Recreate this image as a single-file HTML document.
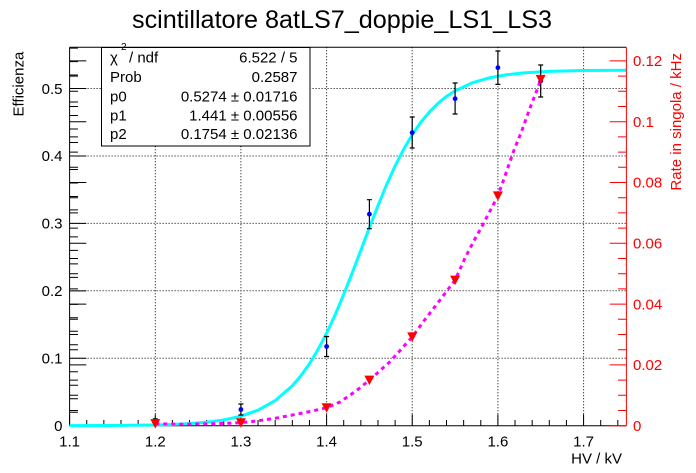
<!DOCTYPE html>
<html>
<head>
<meta charset="utf-8">
<style>
  html,body{margin:0;padding:0;background:#fff;}
  svg{display:block;}
  text{font-family:"Liberation Sans",Arial,sans-serif;}
</style>
</head>
<body>
<svg width="696" height="473" viewBox="0 0 696 473" xmlns="http://www.w3.org/2000/svg">
  <rect x="0" y="0" width="696" height="473" fill="#fff"/>

  <!-- Title -->
  <text x="132" y="28" font-size="25" textLength="420" lengthAdjust="spacingAndGlyphs" fill="#000">scintillatore 8atLS7_doppie_LS1_LS3</text>

  <!-- Grid (dotted) -->
  <g stroke="#000" stroke-width="1" stroke-dasharray="1 2" fill="none">
    <path d="M155.3 47.3V425.7 M240.9 47.3V425.7 M326.6 47.3V425.7 M412.2 47.3V425.7 M497.9 47.3V425.7 M583.6 47.3V425.7"/>
    <path d="M69.6 358.3H626.4 M69.6 290.8H626.4 M69.6 223.4H626.4 M69.6 156H626.4 M69.6 88.5H626.4"/>
  </g>

  <!-- Frame -->
  <g stroke="#000" stroke-width="1" fill="none">
    <path d="M69.6 47.3H626.4 M69.6 47.3V425.7 M69.6 425.7H626.4"/>
  </g>

  <!-- Left axis ticks (own) -->
  <g stroke="#000" stroke-width="1" fill="none">
    <path d="M69.6 425.7h16.7 M69.6 358.27h16.7 M69.6 290.84h16.7 M69.6 223.41h16.7 M69.6 155.98h16.7 M69.6 88.55h16.7"/>
    <path d="M69.6 412.21h8.35 M69.6 398.73h8.35 M69.6 385.24h8.35 M69.6 371.76h8.35 M69.6 344.78h8.35 M69.6 331.3h8.35 M69.6 317.81h8.35 M69.6 304.33h8.35 M69.6 277.35h8.35 M69.6 263.87h8.35 M69.6 250.38h8.35 M69.6 236.9h8.35 M69.6 209.92h8.35 M69.6 196.44h8.35 M69.6 182.95h8.35 M69.6 169.47h8.35 M69.6 142.49h8.35 M69.6 129.01h8.35 M69.6 115.52h8.35 M69.6 102.04h8.35 M69.6 75.06h8.35 M69.6 61.58h8.35 M69.6 48.09h8.35"/>
    <!-- mirrored right-axis ticks on left -->
    <path d="M69.6 364.9h16.7 M69.6 304.1h16.7 M69.6 243.3h16.7 M69.6 182.5h16.7 M69.6 121.7h16.7 M69.6 60.9h16.7"/>
    <path d="M69.6 410.5h8.35 M69.6 395.3h8.35 M69.6 380.1h8.35 M69.6 349.7h8.35 M69.6 334.5h8.35 M69.6 319.3h8.35 M69.6 288.9h8.35 M69.6 273.7h8.35 M69.6 258.5h8.35 M69.6 228.1h8.35 M69.6 212.9h8.35 M69.6 197.7h8.35 M69.6 167.3h8.35 M69.6 152.1h8.35 M69.6 136.9h8.35 M69.6 106.5h8.35 M69.6 91.3h8.35 M69.6 76.1h8.35"/>
  </g>

  <!-- X axis ticks -->
  <g stroke="#000" stroke-width="1" fill="none">
    <path d="M69.6 425.7v-11.35 M155.26 425.7v-11.35 M240.92 425.7v-11.35 M326.58 425.7v-11.35 M412.24 425.7v-11.35 M497.9 425.7v-11.35 M583.56 425.7v-11.35"/>
    <path d="M86.73 425.7v-5.7 M103.86 425.7v-5.7 M121 425.7v-5.7 M138.13 425.7v-5.7 M172.39 425.7v-5.7 M189.52 425.7v-5.7 M206.66 425.7v-5.7 M223.79 425.7v-5.7 M258.05 425.7v-5.7 M275.18 425.7v-5.7 M292.32 425.7v-5.7 M309.45 425.7v-5.7 M343.71 425.7v-5.7 M360.84 425.7v-5.7 M377.98 425.7v-5.7 M395.11 425.7v-5.7 M429.37 425.7v-5.7 M446.5 425.7v-5.7 M463.64 425.7v-5.7 M480.77 425.7v-5.7 M515.03 425.7v-5.7 M532.16 425.7v-5.7 M549.3 425.7v-5.7 M566.43 425.7v-5.7 M600.69 425.7v-5.7 M617.82 425.7v-5.7"/>
  </g>

  <!-- Cyan fit curve -->
  <polyline fill="none" stroke="#00ffff" stroke-width="3" stroke-linejoin="round"
    points="69.6,425.64 112.4,425.49 155.3,424.94 172.4,424.44 189.5,423.6 206.7,422.22 223.8,419.94 240.9,416.22 258.1,410.18 275.2,400.58 292.3,385.71 300.9,375.73 309.5,363.75 318,349.6 326.6,333.23 335.2,314.74 343.7,294.41 352.3,272.68 360.9,250.16 369.4,227.58 378,205.66 386.5,184.95 395.1,166.03 403.7,149.23 412.2,134.68 420.8,122.28 429.4,111.9 437.9,103.38 446.5,96.42 455.1,90.84 472.2,82.84 489.3,77.85 506.5,74.78 523.6,72.92 549.3,71.4 583.6,70.55 626.4,70.21"/>

  <!-- Magenta dotted rate curve -->
  <polyline fill="none" stroke="#ff00ff" stroke-width="3" stroke-dasharray="4 4"
    points="155.3,423.8 180,424.2 200,424 220,423.5 240.9,422.7 256.7,421 275,418.3 290,415.5 310,411.5 326.6,407.8 340,402 356.7,390.5 369.4,380.1 390,361.7 412.2,336.9 425,319.5 440,300 455.1,280.1 465,258 473.3,242 482.7,225 497.9,195.9 505,176 513.3,152 521.7,131 530,108 537,90 540.7,79.4"/>

  <!-- Error bars -->
  <g stroke="#000" stroke-width="1.2" fill="none">
    <path d="M155.3 418.9V424.9 M152.8 418.9h5"/>
    <path d="M240.9 404V415 M238.4 404h5 M238.4 415h5"/>
    <path d="M326.6 336.5V356.5 M324.1 336.5h5 M324.1 356.5h5"/>
    <path d="M369.4 199.7V228.7 M366.9 199.7h5 M366.9 228.7h5"/>
    <path d="M412.2 117V148 M409.7 117h5 M409.7 148h5"/>
    <path d="M455.1 83V114 M452.6 83h5 M452.6 114h5"/>
    <path d="M497.9 51V84.4 M495.4 51h5 M495.4 84.4h5"/>
    <path d="M540.7 65V97 M538.2 65h5 M538.2 97h5"/>
  </g>

  <!-- Blue points -->
  <g fill="#0000ff">
    <circle cx="155.3" cy="421.9" r="2.4"/>
    <circle cx="240.9" cy="409.5" r="2.4"/>
    <circle cx="326.6" cy="346.5" r="2.4"/>
    <circle cx="369.4" cy="214.2" r="2.4"/>
    <circle cx="412.2" cy="132.6" r="2.4"/>
    <circle cx="455.1" cy="98.7" r="2.4"/>
    <circle cx="497.9" cy="67.7" r="2.4"/>
    <circle cx="540.7" cy="81.1" r="2.4"/>
  </g>

  <!-- Red triangles (down) -->
  <g fill="#ff0000">
    <polygon points="150.3,419.1 160.3,419.1 155.3,428.6"/>
    <polygon points="235.9,418.2 245.9,418.2 240.9,427.7"/>
    <polygon points="321.6,403.3 331.6,403.3 326.6,412.8"/>
    <polygon points="364.4,375.6 374.4,375.6 369.4,385.1"/>
    <polygon points="407.2,332.4 417.2,332.4 412.2,341.9"/>
    <polygon points="450.1,275.6 460.1,275.6 455.1,285.1"/>
    <polygon points="492.9,191.4 502.9,191.4 497.9,200.9"/>
    <polygon points="535.7,74.9 545.7,74.9 540.7,84.4"/>
  </g>

  <!-- Right red axis -->
  <g stroke="#ff0000" stroke-width="1" fill="none">
    <path d="M626.4 47.3V425.7"/>
    <path d="M626.4 425.7h-16.7 M626.4 364.9h-16.7 M626.4 304.1h-16.7 M626.4 243.3h-16.7 M626.4 182.5h-16.7 M626.4 121.7h-16.7 M626.4 60.9h-16.7"/>
    <path d="M626.4 410.5h-8.35 M626.4 395.3h-8.35 M626.4 380.1h-8.35 M626.4 349.7h-8.35 M626.4 334.5h-8.35 M626.4 319.3h-8.35 M626.4 288.9h-8.35 M626.4 273.7h-8.35 M626.4 258.5h-8.35 M626.4 228.1h-8.35 M626.4 212.9h-8.35 M626.4 197.7h-8.35 M626.4 167.3h-8.35 M626.4 152.1h-8.35 M626.4 136.9h-8.35 M626.4 106.5h-8.35 M626.4 91.3h-8.35 M626.4 76.1h-8.35"/>
  </g>

  <!-- Left axis labels -->
  <g font-size="15" fill="#000" text-anchor="end">
    <text x="62.5" y="431">0</text>
    <text x="62.5" y="363.5">0.1</text>
    <text x="62.5" y="296">0.2</text>
    <text x="62.5" y="228.6">0.3</text>
    <text x="62.5" y="161.2">0.4</text>
    <text x="62.5" y="93.8">0.5</text>
  </g>

  <!-- Right axis labels -->
  <g font-size="15" fill="#ff0000">
    <text x="633" y="431">0</text>
    <text x="633" y="370.1">0.02</text>
    <text x="633" y="309.3">0.04</text>
    <text x="633" y="248.5">0.06</text>
    <text x="633" y="187.7">0.08</text>
    <text x="633" y="126.9">0.1</text>
    <text x="633" y="66.1">0.12</text>
  </g>

  <!-- X axis labels -->
  <g font-size="15" fill="#000" text-anchor="middle">
    <text x="69.6" y="446.5">1.1</text>
    <text x="155.3" y="446.5">1.2</text>
    <text x="240.9" y="446.5">1.3</text>
    <text x="326.6" y="446.5">1.4</text>
    <text x="412.2" y="446.5">1.5</text>
    <text x="497.9" y="446.5">1.6</text>
    <text x="583.6" y="446.5">1.7</text>
  </g>
  <text x="622" y="463.5" font-size="15" fill="#000" text-anchor="end">HV / kV</text>

  <!-- Axis titles -->
  <text transform="translate(23.3,51.7) rotate(-90)" font-size="15" fill="#000" text-anchor="end">Efficienza</text>
  <text transform="translate(681,53) rotate(-90)" font-size="15" fill="#ff0000" text-anchor="end">Rate in singola / kHz</text>

  <!-- Stats box -->
  <rect x="101.5" y="47.5" width="208.5" height="98.5" fill="#fff" stroke="#000" stroke-width="1"/>
  <g font-size="15" fill="#000">
    <text x="110" y="62.4">χ</text>
    <text x="121" y="50" font-size="10">2</text>
    <text x="129" y="62.4">/ ndf</text>
    <text x="110" y="82">Prob</text>
    <text x="110" y="101.4">p0</text>
    <text x="110" y="120.4">p1</text>
    <text x="110" y="139">p2</text>
  </g>
  <g font-size="15" fill="#000" text-anchor="end">
    <text x="297.5" y="62.4">6.522 / 5</text>
    <text x="297.5" y="82">0.2587</text>
    <text x="297.5" y="101.4">0.5274 ± 0.01716</text>
    <text x="297.5" y="120.4">1.441 ± 0.00556</text>
    <text x="297.5" y="139">0.1754 ± 0.02136</text>
  </g>
</svg>
</body>
</html>
